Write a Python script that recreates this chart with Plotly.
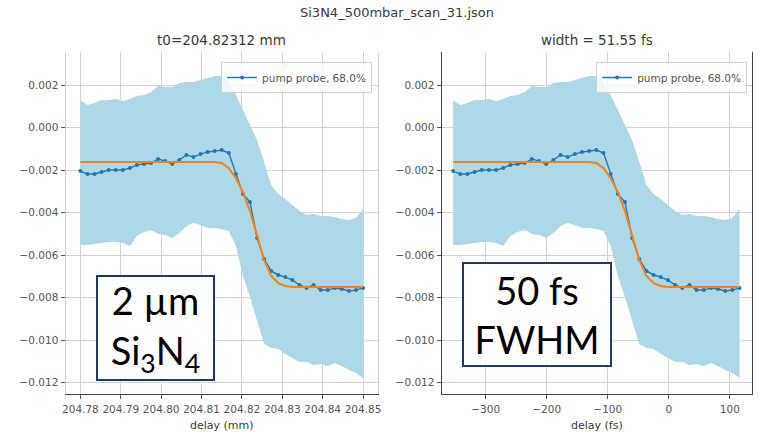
import plotly.graph_objects as go

# ---------------- data ----------------
delay_mm = [204.78000, 204.78175, 204.78350, 204.78525, 204.78700, 204.78875, 204.79050,
            204.79225, 204.79400, 204.79575, 204.79750, 204.79925, 204.80100, 204.80275,
            204.80450, 204.80625, 204.80800, 204.80975, 204.81150, 204.81325, 204.81500,
            204.81675, 204.81850, 204.82025, 204.82200, 204.82375, 204.82550, 204.82725,
            204.82900, 204.83075, 204.83250, 204.83425, 204.83600, 204.83775, 204.83950,
            204.84125, 204.84300, 204.84475, 204.84650, 204.84825, 204.85000]

signal = [-0.00205, -0.00219, -0.00219, -0.00209, -0.00200, -0.00200, -0.00200, -0.00191,
          -0.00176, -0.00172, -0.00167, -0.00148, -0.00158, -0.00172, -0.00153, -0.00129,
          -0.00139, -0.00125, -0.00115, -0.00111, -0.00106, -0.00120, -0.00219, -0.00313,
          -0.00351, -0.00520, -0.00619, -0.00675, -0.00694, -0.00704, -0.00718, -0.00741,
          -0.00755, -0.00741, -0.00765, -0.00765, -0.00755, -0.00760, -0.00769, -0.00765,
          -0.00755]

fit = [-0.00162, -0.00162, -0.00162, -0.00162, -0.00162, -0.00162, -0.00162, -0.00162,
       -0.00162, -0.00162, -0.00162, -0.00162, -0.00162, -0.00162, -0.00162, -0.00162,
       -0.00162, -0.00162, -0.00162, -0.00162, -0.00167, -0.00191, -0.00238, -0.00304,
       -0.00393, -0.00511, -0.00624, -0.00699, -0.00732, -0.00746, -0.00751, -0.00751,
       -0.00751, -0.00751, -0.00751, -0.00751, -0.00751, -0.00751, -0.00751, -0.00751,
       -0.00751]

band_upper = [0.001294, 0.001059, 0.001153, 0.001294, 0.001294, 0.001341, 0.001247, 0.001341,
              0.001482, 0.001529, 0.001671, 0.001953, 0.001906, 0.001906, 0.002094, 0.002141,
              0.002141, 0.002235, 0.002329, 0.002424, 0.002424, 0.002141, 0.001529, 0.000824,
              0.000165, -0.000588, -0.001624, -0.002706, -0.003129, -0.003365, -0.003647,
              -0.003929, -0.004118, -0.004071, -0.004165, -0.004165, -0.004212, -0.004306,
              -0.004353, -0.004259, -0.003835]

band_lower = [-0.005529, -0.005529, -0.005482, -0.005435, -0.005388, -0.005388, -0.005435,
              -0.005576, -0.005106, -0.004918, -0.004824, -0.005012, -0.005059, -0.005200,
              -0.004965, -0.004635, -0.004494, -0.004588, -0.004729, -0.004729, -0.004776,
              -0.004871, -0.005576, -0.006988, -0.007976, -0.009106, -0.010188, -0.010376,
              -0.010424, -0.010659, -0.010847, -0.011035, -0.011035, -0.011176, -0.011129,
              -0.011224, -0.011082, -0.011224, -0.011412, -0.011553, -0.011788]

# delay axis conversion for the right panel (mm -> fs)
AXIS_ZERO_MM = 204.8327
FS_PER_MM = 6707.0
delay_fs = [(m - AXIS_ZERO_MM) * FS_PER_MM for m in delay_mm]

mm_ticks = [204.78, 204.79, 204.80, 204.81, 204.82, 204.83, 204.84, 204.85]
fs_ticks = [-300, -200, -100, 0, 100]
y_ticks = [0.002, 0.000, -0.002, -0.004, -0.006, -0.008, -0.010, -0.012]

main_title = "Si3N4_500mbar_scan_31.json"
left_title = "t0=204.82312 mm"
right_title = "width = 51.55 fs"
legend_label = "pump probe, 68.0%"

# ---------------- styling ----------------
W, H = 769, 432
BAND = "#add8e6"
BLUE = "#1f77b4"
ORANGE = "#ff7f0e"
GRID = "#d2d2d2"
TXT = "#3a3a3a"
TICKTXT = "#555555"
FONT = "DejaVu Sans"


def px_x(p):
    return p / W


def px_y(p):
    return 1 - p / H


fig = go.Figure()

panels = [
    (delay_mm, "x", "y", "legend"),
    (delay_fs, "x2", "y2", "legend2"),
]
for xs, xa, ya, lg in panels:
    fig.add_trace(go.Scatter(x=xs, y=band_upper, mode="lines", line=dict(width=0, color=BAND),
                             xaxis=xa, yaxis=ya, showlegend=False, hoverinfo="skip"))
    fig.add_trace(go.Scatter(x=xs, y=band_lower, mode="lines", line=dict(width=0, color=BAND),
                             fill="tonexty", fillcolor=BAND,
                             xaxis=xa, yaxis=ya, showlegend=False, hoverinfo="skip"))
    fig.add_trace(go.Scatter(x=xs, y=signal, mode="lines+markers", name=legend_label,
                             line=dict(color=BLUE, width=1.4),
                             marker=dict(color=BLUE, size=4, symbol="circle"),
                             xaxis=xa, yaxis=ya, legend=lg))
    fig.add_trace(go.Scatter(x=xs, y=fit, mode="lines", line=dict(color=ORANGE, width=2),
                             xaxis=xa, yaxis=ya, showlegend=False))

ydom = [px_y(394), px_y(52)]
yrange = [-0.012541, 0.003553]

common_axis = dict(showgrid=True, gridcolor=GRID, gridwidth=1, zeroline=False,
                   ticks="outside", ticklen=4, tickwidth=1, tickcolor="#555",
                   tickfont=dict(family=FONT, size=10.5, color=TICKTXT),
                   layer="above traces", showline=True)

fig.update_layout(
    width=W, height=H,
    margin=dict(l=0, r=0, t=0, b=0),
    paper_bgcolor="white", plot_bgcolor="white",
    font=dict(family=FONT, color=TXT),
    xaxis=dict(domain=[px_x(63), px_x(378)], range=[204.77631, 204.85371],
               tickvals=mm_ticks, tickformat=".2f", tickangle=0, anchor="y",
               ticklabelstandoff=1, linecolor="#444", mirror=False, **common_axis),
    yaxis=dict(domain=ydom, range=yrange, tickvals=y_ticks, tickformat=".3f", anchor="x",
               linecolor="#cfcfcf", mirror=True, **common_axis),
    xaxis2=dict(domain=[px_x(442), px_x(755)], range=[-372.4, 136.6],
                tickvals=fs_ticks, tickformat="d", tickangle=0, anchor="y2",
                ticklabelstandoff=1, linecolor="#444", mirror=False, **common_axis),
    yaxis2=dict(domain=ydom, range=yrange, tickvals=y_ticks, tickformat=".3f", anchor="x2",
                linecolor="#444", mirror=True, **common_axis),
    legend=dict(x=px_x(372), xanchor="right", y=px_y(62), yanchor="top",
                bgcolor="rgba(255,255,255,0.8)", bordercolor="#d0d0d0", borderwidth=1,
                font=dict(family=FONT, size=10.5, color=TICKTXT), itemwidth=30),
    legend2=dict(x=px_x(750), xanchor="right", y=px_y(62), yanchor="top",
                 bgcolor="rgba(255,255,255,0.8)", bordercolor="#d0d0d0", borderwidth=1,
                 font=dict(family=FONT, size=10.5, color=TICKTXT), itemwidth=30),
    showlegend=True,
)

annots = [
    dict(text=main_title, x=px_x(397), y=px_y(13), size=13),
    dict(text=left_title, x=px_x(220.5), y=px_y(40), size=13.5),
    dict(text=right_title, x=px_x(598.5), y=px_y(40), size=13.5),
    dict(text="delay (mm)", x=px_x(220.5), y=px_y(425), size=11),
    dict(text="delay (fs)", x=px_x(598.5), y=px_y(425), size=11),
]
for a in annots:
    fig.add_annotation(text=a["text"], x=a["x"], y=a["y"], xref="paper", yref="paper",
                       xanchor="center", yanchor="middle", showarrow=False,
                       font=dict(family=FONT, size=a["size"], color=TXT))

boxes = [
    ("2 µm<br>Si<sub>3</sub>N<sub>4</sub>", 153.5, 328, 115, 102),
    ("50 fs<br>FWHM", 538, 314.5, 146, 101),
]
for txt, cx, cy, bw, bh in boxes:
    fig.add_annotation(text=txt, x=px_x(cx), y=px_y(cy), xref="paper", yref="paper",
                       xanchor="center", yanchor="middle", showarrow=False,
                       width=bw, height=bh, align="center", valign="middle",
                       bgcolor="white", bordercolor="#1f3864", borderwidth=2, borderpad=0,
                       font=dict(family="Lato", size=38, color="black"))

fig.write_html("out.html")
